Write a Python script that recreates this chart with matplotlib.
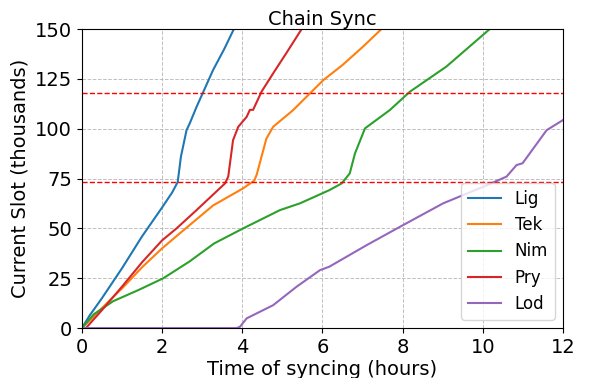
import matplotlib
matplotlib.use('Agg')
import matplotlib.pyplot as plt

# hours, thousands of slots
lig_t = [0, 0.2, 0.5, 1.0, 1.5, 2.0, 2.25, 2.39, 2.47, 2.61, 2.69, 2.86, 3.03, 3.27, 3.55, 3.79]
lig_y = [0, 6.5, 15.0, 30.0, 46.0, 60.5, 68.0, 73.3, 86.0, 99.3, 102.7, 111.0, 118.6, 129.4, 140.0, 150.0]

tek_t = [0, 0.3, 0.7, 1.03, 1.5, 2.0, 2.44, 3.27, 4.02, 4.3, 4.36, 4.48, 4.6, 4.77, 5.27, 5.69, 6.02, 6.5, 7.0, 7.47]
tek_y = [0, 6.0, 14.0, 20.5, 30.5, 40.0, 47.5, 61.5, 70.1, 74.0, 77.0, 86.0, 95.0, 101.0, 109.4, 117.8, 124.4, 132.0, 141.0, 150.0]

nim_t = [0, 0.3, 0.78, 1.4, 2.03, 2.69, 3.3, 4.02, 4.94, 5.44, 6.17, 6.48, 6.68, 6.81, 7.06, 7.68, 8.18, 9.09, 10.17]
nim_y = [0, 7.0, 13.5, 19.0, 25.0, 33.5, 42.5, 50.0, 59.2, 62.6, 69.2, 72.6, 77.6, 87.6, 100.2, 109.4, 118.6, 131.2, 150.0]

pry_t = [0.1, 0.5, 1.03, 1.5, 2.0, 2.36, 2.86, 3.57, 3.65, 3.77, 3.9, 4.11, 4.19, 4.27, 4.48, 4.77, 5.1, 5.48]
pry_y = [0, 9.0, 21.5, 33.0, 44.0, 50.0, 59.2, 72.6, 76.0, 94.3, 101.0, 106.0, 109.5, 109.5, 118.6, 127.8, 138.0, 150.0]

lod_t = [0, 3.85, 3.94, 4.11, 4.77, 5.35, 5.94, 6.17, 7.1, 7.93, 9.01, 10.01, 10.59, 10.84, 10.99, 11.59, 12.0]
lod_y = [0, 0, 0.6, 4.9, 11.5, 20.7, 29.1, 30.8, 41.6, 50.8, 62.6, 70.9, 76.0, 81.8, 82.7, 99.3, 104.4]

series = [('Lig', lig_t, lig_y), ('Tek', tek_t, tek_y), ('Nim', nim_t, nim_y),
          ('Pry', pry_t, pry_y), ('Lod', lod_t, lod_y)]
markers = [118, 73.5]

plt.rcParams['font.size'] = 14
fig, ax = plt.subplots(figsize=(5.89, 3.78), dpi=100)
fig.subplots_adjust(left=0.139, right=0.956, top=0.923, bottom=0.132)

for name, t, y in series:
    ax.plot(t, y, label=name, linewidth=1.5)
for m in markers:
    ax.axhline(m, color='red', linestyle='--', linewidth=1)

ax.set_xlim(0, 12)
ax.set_ylim(0, 150)
ax.set_xticks([0, 2, 4, 6, 8, 10, 12])
ax.set_yticks([0, 25, 50, 75, 100, 125, 150])
ax.grid(color='#b0b0b0', linestyle='--', linewidth=0.7, alpha=0.8)
ax.set_title('Chain Sync', fontsize=14, pad=3)
ax.set_xlabel('Time of syncing (hours)', labelpad=2)
ax.set_ylabel('Current Slot (thousands)')
ax.legend(loc='lower right', fontsize=12)

plt.savefig('out.png', dpi=100)
